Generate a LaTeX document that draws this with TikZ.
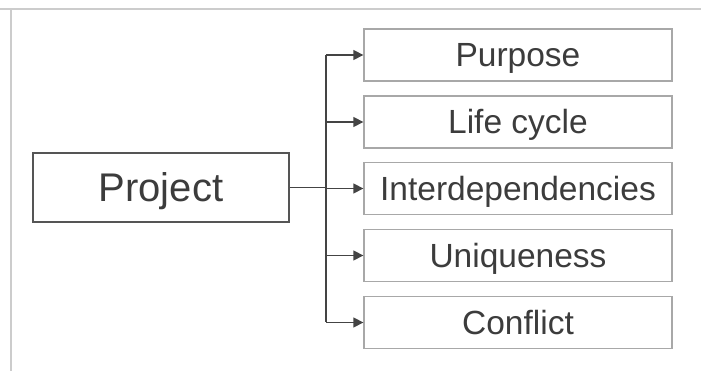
\documentclass[tikz,border=0pt]{standalone}
\usepackage{fontspec}
\setmainfont{Liberation Sans}
\usetikzlibrary{arrows.meta,calc}
\definecolor{framegray}{HTML}{CCCCCC}
\definecolor{mainedge}{HTML}{555555}
\definecolor{subedge}{HTML}{A8A8A8}
\definecolor{inkgray}{HTML}{3C3C3C}
\definecolor{linkgray}{HTML}{444444}
\begin{document}
\begin{tikzpicture}[x=1pt,y=1pt,
  mainbox/.style={draw=mainedge,line width=1.3pt,minimum width=256pt,minimum height=69pt,
    inner sep=0pt,text height=28.6pt,text depth=0pt,text=inkgray,font=\fontsize{40}{44}\selectfont},
  subbox/.style={draw=subedge,line width=1.3pt,minimum width=308pt,minimum height=52pt,
    inner sep=0pt,text height=24pt,text depth=0pt,text=inkgray,font=\fontsize{33.5}{36}\selectfont},
  link/.style={draw=linkgray,line width=1.3pt},
  tiplink/.style={link,-{Triangle[length=10pt,width=10pt]}}]
  \useasboundingbox (0,0) rectangle (701,371);
  \fill[white] (0,0) rectangle (701,371);
  % page frame
  \draw[framegray,line width=2pt] (0,361.5) -- (701,361.5);
  \draw[framegray,line width=2pt] (11,361.5) -- (11,0);
  % nodes
  \node[mainbox] (project) at (161,183.5) {Project};
  \node[subbox] (purpose) at (518,316) {Purpose};
  \node[subbox] (life)    at (518,249) {Life cycle};
  \node[subbox] (inter)   at (518,182.5) {Interdependencies};
  \node[subbox] (unique)  at (518,115.5) {Uniqueness};
  \node[subbox] (conflict) at (518,48.5) {Conflict};
  % trunk
  \coordinate (jx) at (326,0);
  \coordinate (jtop) at (jx |- purpose.west);
  \coordinate (jbot) at (jx |- conflict.west);
  \draw[link] (jtop) -- (jbot);
  \draw[link] (project.east) -- (jx |- project.east);
  \draw[tiplink] (jtop) -- (purpose.west);
  \draw[tiplink] (jx |- life.west) -- (life.west);
  \draw[tiplink] (jx |- inter.west) -- (inter.west);
  \draw[tiplink] (jx |- unique.west) -- (unique.west);
  \draw[tiplink] (jbot) -- (conflict.west);
\end{tikzpicture}
\end{document}
